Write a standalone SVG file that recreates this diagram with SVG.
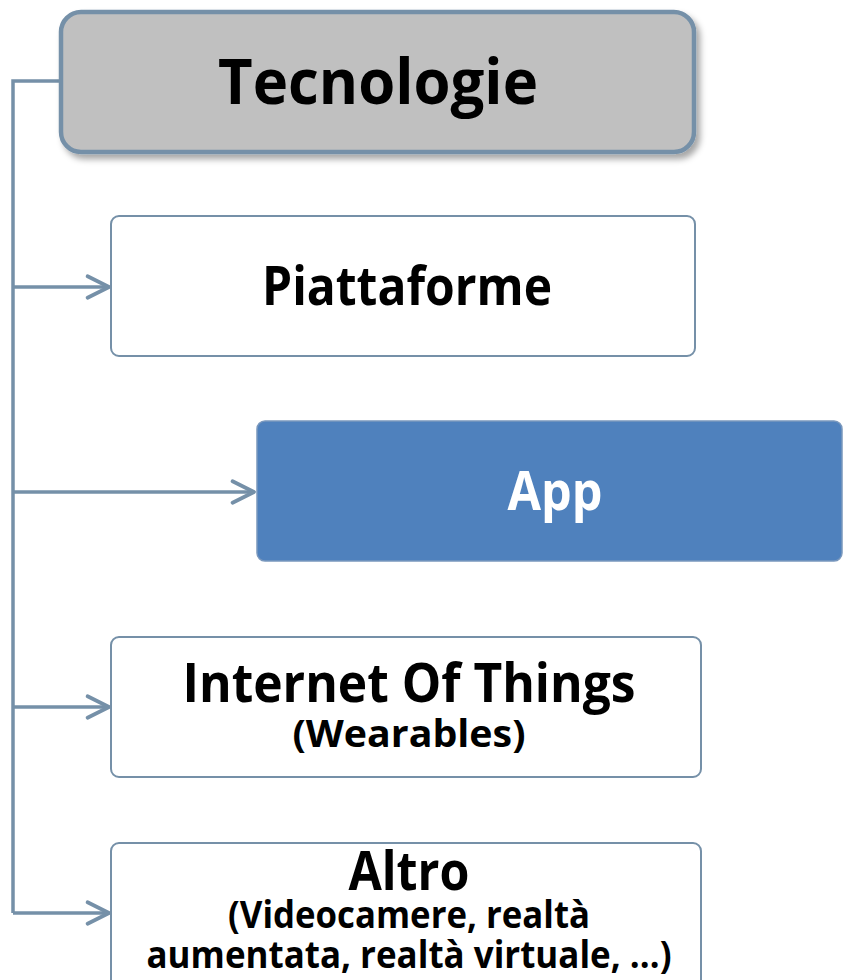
<svg xmlns="http://www.w3.org/2000/svg" width="844" height="980" viewBox="0 0 844 980">
  <defs>
    <filter id="shadow" x="-10%" y="-20%" width="125%" height="150%">
      <feDropShadow dx="4" dy="5" stdDeviation="3" flood-color="#000" flood-opacity="0.35"/>
    </filter>
    <marker id="arrow" markerUnits="userSpaceOnUse" markerWidth="30" markerHeight="30" viewBox="-24 -14 28 28" refX="0" refY="0" orient="auto">
      <path d="M-20,-10 L0,0 L-20,10" fill="none" stroke="#7590a8" stroke-width="3.5" stroke-linecap="round" stroke-linejoin="round"/>
    </marker>
    <style>
      .lbl { font-family: "Open Sans", "Noto Sans", "DejaVu Sans", sans-serif; font-weight: bold; text-anchor: middle; fill: #000; }
      .big { font-size: 54px; }
      .small { font-size: 37px; }
      .box { fill: #fff; stroke: #7590a8; stroke-width: 2; }
      .conn { fill: none; stroke: #7590a8; stroke-width: 3.5; }
    </style>
  </defs>

  <g id="connectors">
    <path class="conn" d="M60,81 H13 V913"/>
    <path class="conn" d="M13,287 H109" marker-end="url(#arrow)"/>
    <path class="conn" d="M13,492 H254" marker-end="url(#arrow)"/>
    <path class="conn" d="M13,707 H109" marker-end="url(#arrow)"/>
    <path class="conn" d="M13,913 H109" marker-end="url(#arrow)"/>
  </g>

  <g id="tecnologie">
    <rect x="61" y="12" width="633" height="140" rx="20" fill="#c0c0c0" stroke="#7590a8" stroke-width="4.5" filter="url(#shadow)"/>
    <text class="lbl" x="378" y="104" font-size="63" textLength="320" lengthAdjust="spacingAndGlyphs">Tecnologie</text>
  </g>

  <g id="piattaforme">
    <rect class="box" x="111" y="216" width="584" height="140" rx="8"/>
    <text class="lbl big" x="407" y="305" textLength="290" lengthAdjust="spacingAndGlyphs">Piattaforme</text>
  </g>

  <g id="app">
    <rect x="257" y="421" width="585" height="140" rx="8" fill="#4f81bd" stroke="#7a98bd" stroke-width="1.5"/>
    <text class="lbl big" x="555" y="510" style="fill:#fff" textLength="95" lengthAdjust="spacingAndGlyphs">App</text>
  </g>

  <g id="iot">
    <rect class="box" x="111" y="637" width="590" height="140" rx="8"/>
    <text class="lbl big" x="409" y="702" textLength="453" lengthAdjust="spacingAndGlyphs">Internet Of Things</text>
    <text class="lbl small" x="409" y="747" textLength="233" lengthAdjust="spacingAndGlyphs">(Wearables)</text>
  </g>

  <g id="altro">
    <rect class="box" x="111" y="843" width="590" height="150" rx="8"/>
    <text class="lbl big" x="409" y="890" textLength="121" lengthAdjust="spacingAndGlyphs">Altro</text>
    <text class="lbl small" x="409" y="928" textLength="362" lengthAdjust="spacingAndGlyphs">(Videocamere, realtà</text>
    <text class="lbl small" x="409" y="968" textLength="525" lengthAdjust="spacingAndGlyphs">aumentata, realtà virtuale, …)</text>
  </g>
</svg>
